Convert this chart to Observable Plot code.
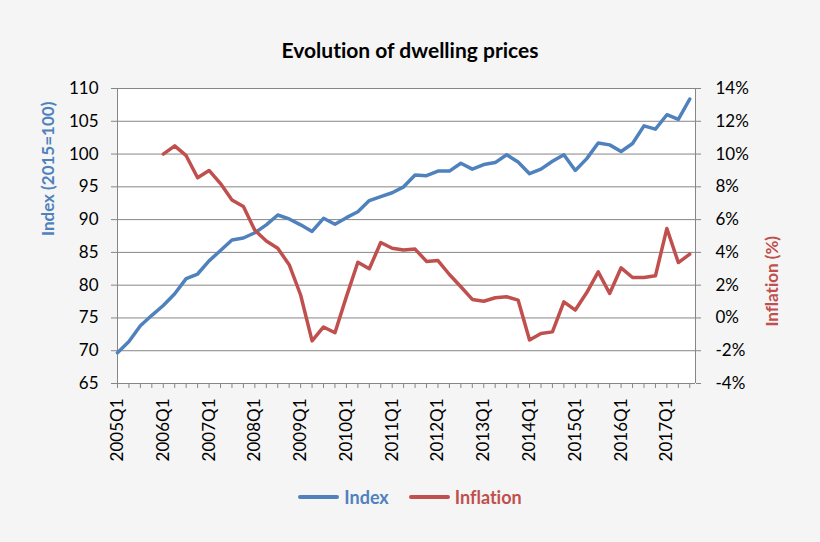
<!DOCTYPE html>
<html>
<head>
<meta charset="utf-8">
<script src="https://cdn.jsdelivr.net/npm/d3@7"></script>
<script src="https://cdn.jsdelivr.net/npm/@observablehq/plot@0.6"></script>
<style>
  body { margin: 0; background: #f5f5f5; font-family: Lato, "Open Sans", sans-serif; font-variant-ligatures: none; }
  #wrap { width: 820px; height: 542px; position: relative; overflow: hidden; background: #f5f5f5; }
  #title { height: 70px; box-sizing: border-box; padding-top: 37px; line-height: 26px; text-align: center; font-weight: bold; font-size: 21px; color: #000; }
  #chart { height: 400px; }
  #chart svg { display: block; font-variant-ligatures: none; }
  #legend { box-sizing: border-box; padding-top: 4px; display: flex; justify-content: center; align-items: center; line-height: 22px; height: 50px; font-weight: bold; font-size: 18px; }
  .item { display: flex; align-items: center; margin: 0 10px; }
  .sw { width: 41px; height: 4px; margin-right: 5px; border-radius: 2px; }
</style>
</head>
<body>
<div id="wrap">
  <div id="title">Evolution of dwelling prices</div>
  <div id="chart"></div>
  <div id="legend"></div>
</div>
<script>
const quarters = [
  "2005Q1","2005Q2","2005Q3","2005Q4","2006Q1","2006Q2","2006Q3","2006Q4",
  "2007Q1","2007Q2","2007Q3","2007Q4","2008Q1","2008Q2","2008Q3","2008Q4",
  "2009Q1","2009Q2","2009Q3","2009Q4","2010Q1","2010Q2","2010Q3","2010Q4",
  "2011Q1","2011Q2","2011Q3","2011Q4","2012Q1","2012Q2","2012Q3","2012Q4",
  "2013Q1","2013Q2","2013Q3","2013Q4","2014Q1","2014Q2","2014Q3","2014Q4",
  "2015Q1","2015Q2","2015Q3","2015Q4","2016Q1","2016Q2","2016Q3","2016Q4",
  "2017Q1","2017Q2","2017Q3"
];
const indexValues = [
  69.7, 71.4, 73.8, 75.4, 76.9, 78.7, 81.0, 81.7, 83.7, 85.3,
  86.9, 87.2, 88.0, 89.2, 90.7, 90.1, 89.2, 88.2, 90.2, 89.3,
  90.3, 91.2, 92.9, 93.5, 94.1, 95.0, 96.8, 96.7, 97.4, 97.4,
  98.6, 97.7, 98.4, 98.7, 99.9, 98.8, 97.0, 97.7, 98.9, 99.9,
  97.5, 99.3, 101.7, 101.4, 100.4, 101.6, 104.3, 103.8, 106.0, 105.3,
  108.4
];
const inflationValues = [
  null, null, null, null,
  10.0, 10.5, 9.9, 8.55, 9.0, 8.2, 7.2, 6.8, 5.35, 4.7,
  4.25, 3.25, 1.4, -1.4, -0.55, -0.9, 1.3, 3.4, 3.0, 4.6,
  4.25, 4.15, 4.2, 3.45, 3.5, 2.65, 1.9, 1.13, 1.02, 1.23,
  1.29, 1.09, -1.35, -0.95, -0.85, 0.98, 0.48, 1.55, 2.81, 1.49,
  3.06, 2.47, 2.47, 2.57, 5.46, 3.38, 3.89
];
const tickLabels = ["2005Q1","2006Q1","2007Q1","2008Q1","2009Q1","2010Q1","2011Q1","2012Q1","2013Q1","2014Q1","2015Q1","2016Q1","2017Q1"];
const leftTicks = [65, 70, 75, 80, 85, 90, 95, 100, 105, 110];
const rightTicks = [-4, -2, 0, 2, 4, 6, 8, 10, 12, 14];
const seriesNames = ["Index", "Inflation"];
const seriesColors = ["#4f81bd", "#c0504d"];

// map inflation (%) onto the left axis domain: -4..14 -> 65..110
const toLeft = v => 65 + (v - rightTicks[0]) * (leftTicks[leftTicks.length-1] - leftTicks[0]) / (rightTicks[rightTicks.length-1] - rightTicks[0]);
const fromLeft = d => rightTicks[0] + (d - leftTicks[0]) * (rightTicks[rightTicks.length-1] - rightTicks[0]) / (leftTicks[leftTicks.length-1] - leftTicks[0]);

const rows = quarters.map((q, i) => ({i, q, index: indexValues[i], infl: inflationValues[i]}));
const idx = quarters.map((q, i) => i);
const grid = "#868686";

const chart = Plot.plot({
  width: 820, height: 400,
  marginTop: 18, marginBottom: 87, marginLeft: 117, marginRight: 125,
  style: {background: "transparent", fontFamily: "Lato, 'Open Sans', sans-serif", fontSize: "17px", color: "#000", overflow: "visible"},
  x: {domain: [0, quarters.length - 0.5]},
  y: {domain: [leftTicks[0], leftTicks[leftTicks.length-1]]},
  marks: [
    Plot.frame({fill: "white", stroke: null}),
    Plot.gridY(leftTicks, {stroke: grid, strokeOpacity: 1, strokeWidth: 1}),
    Plot.ruleX([0, quarters.length - 0.5], {stroke: grid, strokeWidth: 1}),
    Plot.ruleY([leftTicks[0]], {stroke: grid, strokeWidth: 1}),
    Plot.axisY(leftTicks, {anchor: "left", tickSize: 6, tickPadding: 13, label: null, stroke: grid, fontSize: 17}),
    Plot.axisY(rightTicks.map(toLeft), {anchor: "right", tickSize: 5, tickPadding: 15, label: null, stroke: grid, fontSize: 17,
      tickFormat: d => Math.round(fromLeft(d)) + "%"}),
    Plot.axisX(idx, {anchor: "bottom", tickSize: 5, tickPadding: 10, tickRotate: -90, label: null, stroke: grid, fontSize: 17,
      tickFormat: i => tickLabels.includes(quarters[i]) ? quarters[i] : ""}),
    Plot.line(rows, {x: "i", y: "index", stroke: seriesColors[0], strokeWidth: 3.5}),
    Plot.line(rows.filter(d => d.infl != null), {x: "i", y: d => toLeft(d.infl), stroke: seriesColors[1], strokeWidth: 3.5}),
    Plot.text(["Index (2015=100)"], {frameAnchor: "left", dx: -69, rotate: -90, fill: seriesColors[0], fontWeight: "bold", fontSize: 17}),
    Plot.text(["Inflation (%)"], {frameAnchor: "right", dx: 77, rotate: -90, fill: seriesColors[1], fontWeight: "bold", fontSize: 17})
  ]
});
document.getElementById("chart").appendChild(chart);

const legend = document.getElementById("legend");
seriesNames.forEach((name, k) => {
  const it = document.createElement("div");
  it.className = "item";
  const sw = document.createElement("div");
  sw.className = "sw";
  sw.style.background = seriesColors[k];
  const tx = document.createElement("span");
  tx.textContent = name;
  tx.style.color = seriesColors[k];
  it.appendChild(sw); it.appendChild(tx);
  legend.appendChild(it);
});
</script>
</body>
</html>
